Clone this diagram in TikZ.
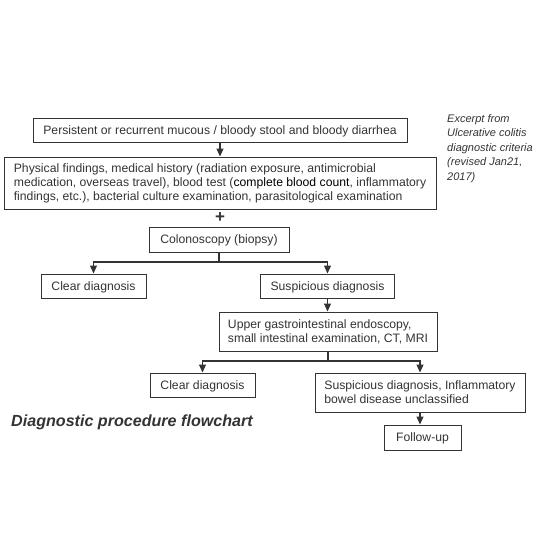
\documentclass[tikz,border=0pt]{standalone}
\usepackage{fontspec}
\setmainfont{Liberation Sans}
\usetikzlibrary{arrows.meta}
\definecolor{txtc}{HTML}{333333}
\definecolor{linec}{HTML}{333333}
\begin{document}
\begin{tikzpicture}[x=1pt,y=-1pt,
 box/.style={draw=linec, line width=1pt, rectangle, inner xsep=10pt, inner ysep=0pt, text=txtc, font=\fontsize{12.2}{14}\selectfont},
 sbox/.style={box, text height=9pt, text depth=0.5pt},
 arr/.style={draw=linec, line width=1.2pt, -{Triangle[width=7pt,length=8pt]}},
 ln/.style={draw=linec, line width=1.2pt}]
\useasboundingbox (0,0) rectangle (560,560);
\node[sbox, minimum width=374pt, minimum height=24pt] (b1) at (220,130) {Persistent or recurrent mucous / bloody stool and bloody diarrhea};
\node[box, minimum width=432pt, minimum height=52pt, inner xsep=2pt, align=left] (b2) at (220,183) {Physical findings, medical history (radiation exposure, antimicrobial\\medication, overseas travel), blood test (\textcolor{black}{complete blood count}, inflammatory\\findings, etc.), bacterial culture examination, parasitological examination};
\node[text=txtc, font=\fontsize{17}{17}\selectfont\bfseries, inner sep=0pt] (plus) at (220,217.5) {+};
\node[sbox, minimum width=140pt, minimum height=25pt] (colon) at (219,239.5) {Colonoscopy (biopsy)};
\node[sbox, minimum width=105pt, minimum height=24pt] (clear1) at (93.5,286) {Clear diagnosis};
\node[sbox, minimum width=133pt, minimum height=24pt] (susp1) at (327.5,286) {Suspicious diagnosis};
\node[box, minimum width=218pt, minimum height=39pt, inner xsep=2pt, align=left] (ugi) at (328,331.5) {Upper gastrointestinal endoscopy,\\small intestinal examination, CT, MRI};
\node[sbox, minimum width=105pt, minimum height=24pt] (clear2) at (202.5,385) {Clear diagnosis};
\node[box, minimum width=210pt, minimum height=39pt, inner xsep=2pt, align=left] (ibdu) at (420,392.5) {Suspicious diagnosis, Inflammatory\\bowel disease unclassified};
\node[sbox, minimum width=77pt, minimum height=25pt] (follow) at (422.5,437.5) {Follow-up};
\node[anchor=west, inner sep=0pt, text=txtc, font=\fontsize{16.1}{18}\selectfont\bfseries\itshape] (title) at (11,422) {Diagnostic procedure flowchart};
\node[anchor=north west, inner sep=0pt, align=left, text=txtc, font=\fontsize{11}{14.5}\selectfont\itshape] (note) at (447,114) {Excerpt from\\Ulcerative colitis\\diagnostic criteria\\(revised Jan21,\\2017)};
\draw[arr] (b1.south) -- (b2.north);
\coordinate (j1) at (219,262);
\draw[ln] (colon.south) -- (j1);
\draw[arr] (j1) -| (clear1.north);
\draw[arr] (j1) -| (susp1.north);
\draw[arr] (susp1.south) -- (ugi.north -| susp1.south);
\coordinate (j2) at (328,361);
\draw[ln] (ugi.south) -- (j2);
\draw[arr] (j2) -| (clear2.north);
\draw[arr] (j2) -| (ibdu.north);
\draw[arr] (ibdu.south) -- (follow.north -| ibdu.south);
\end{tikzpicture}
\end{document}
